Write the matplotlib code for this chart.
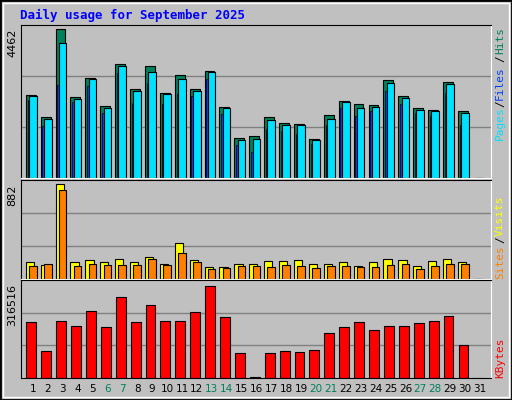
import matplotlib
matplotlib.use("Agg")
import matplotlib.pyplot as plt
import numpy as np
from matplotlib.patches import Rectangle

days = list(range(1, 32))
weekend = [6, 7, 13, 14, 20, 21, 27, 28]
s = 4462 / 442
hits = [round((530 - y) * s) for y in [283,349,88,289,232,316,190,265,196,277,223,265,211,319,412,406,349,367,370,415,343,301,310,313,238,286,322,328,244,331]] + [0]
files = [round((530 - y) * s) for y in [286,355,130,295,235,322,196,271,214,280,235,271,214,322,418,415,358,373,373,418,355,304,322,319,247,292,328,331,250,337]] + [0]
pages = [round((530 - y) * s) for y in [298,376,253,304,256,337,217,307,247,310,280,286,235,340,433,454,385,391,400,430,373,322,346,331,271,310,337,346,277,373]] + [0]
v = 882 / 275
visits = [round((289 - y) * v) for y in [241,247,14,241,235,241,232,241,226,244,184,235,253,253,244,244,238,238,235,244,244,241,250,241,232,235,250,238,232,241]] + [0]
sites = [round((289 - y) * v) for y in [250,244,31,250,244,247,247,247,232,247,214,241,259,256,250,250,253,247,250,256,250,250,253,253,247,244,259,250,244,244]] + [0]
k = 316516 / 274
kbytes = [round((587 - y) * k) for y in [421,508,418,433,388,436,346,421,370,418,418,391,313,406,514,583,514,508,511,505,454,436,421,445,433,433,424,418,403,490]] + [0]

W, H = 512, 400
X0, X1 = 0.2, 31.74
fig = plt.figure(figsize=(W/100, H/100), dpi=100)
fig.patch.set_facecolor("#C0C0C0")
fig.patches.append(Rectangle((0, 0), 1, 1, transform=fig.transFigure, fill=False, ec="black", lw=2))
fig.patches.append(Rectangle((3/W, 3/H), 1-6/W, 1-6/H, transform=fig.transFigure, fill=False, ec="white", lw=1))

def ax_px(x0, y0, x1, y1):
    a = fig.add_axes([x0/W, 1-y1/H, (x1-x0)/W, (y1-y0)/H])
    a.set_facecolor("#C0C0C0")
    a.set_xlim(X0, X1)
    a.set_xticks([]); a.set_yticks([])
    for sp in ["top", "left"]:
        a.spines[sp].set_color("black")
    for sp in ["bottom", "right"]:
        a.spines[sp].set_color("white")
    return a

mono = "DejaVu Sans Mono"
x = np.array(days)
GREEN, BLUE, CYAN = "#00805c", "#0040ff", "#00e0ff"
YEL, ORG, RED = "#ffff00", "#ff8000", "#ff0000"

def grid(a, top):
    for f in (1/3, 2/3):
        a.axhline(top*f, color="#808080", lw=1, zorder=0)

a1 = ax_px(21, 25, 491, 178)
top1 = max(hits) * 151.7 / 147.4
a1.set_ylim(0, top1); grid(a1, top1)
a1.bar(x - 0.48, hits, width=0.66, align="edge", color=GREEN, ec="black", lw=0.8)
a1.bar(x - 0.36, pages, width=0.13, align="edge", color=BLUE, ec="black", lw=0.5)
a1.bar(x - 0.26, files, width=0.51, align="edge", color=CYAN, ec="black", lw=0.8)

a2 = ax_px(21, 180, 491, 279)
top2 = max(visits) * 96 / 91.7
a2.set_ylim(0, top2); grid(a2, top2)
a2.bar(x - 0.48, visits, width=0.55, align="edge", color=YEL, ec="black", lw=0.8)
a2.bar(x - 0.26, sites, width=0.51, align="edge", color=ORG, ec="black", lw=0.8)

a3 = ax_px(21, 280, 491, 378)
top3 = max(kbytes) * 97 / 91.3
a3.set_ylim(0, top3); grid(a3, top3)
a3.bar(x - 0.44, kbytes, width=0.66, align="edge", color=RED, ec="black", lw=0.8)
a3.spines["bottom"].set_color("black")

def ft(xp, yp, s, color="black", rot=0, size=8, ha="center", va="center", weight="normal", fam=mono):
    fig.text(xp/W, 1-yp/H, s, color=color, rotation=rot, fontsize=size, ha=ha, va=va, weight=weight, family=fam)

ft(20, 15, "Daily usage for September 2025", color="#0000ff", size=9, ha="left", weight="bold")
ft(12, 29, "4462", rot=90, va="top", fam="DejaVu Sans")
ft(12, 185, "882", rot=90, va="top", fam="DejaVu Sans")
ft(12, 284, "316516", rot=90, va="top", fam="DejaVu Sans")

rx = 500
for t, yp, c in [("Hits", 41, GREEN), ("/", 59, "black"), ("Files", 83, BLUE), ("/", 104, "black"), ("Pages", 123, CYAN),
                 ("Visits", 216, YEL), ("/", 240, "black"), ("Sites", 262, ORG), ("KBytes", 358, RED)]:
    ft(rx, yp, t, color=c, rot=90, size=8)

for d in days:
    xp = 21 + (d - X0) / (X1 - X0) * 470
    ft(xp, 389, str(d), color=GREEN if d in weekend else "black", size=7.5, fam="DejaVu Sans")

fig.savefig("out.png", dpi=100, facecolor=fig.get_facecolor())
